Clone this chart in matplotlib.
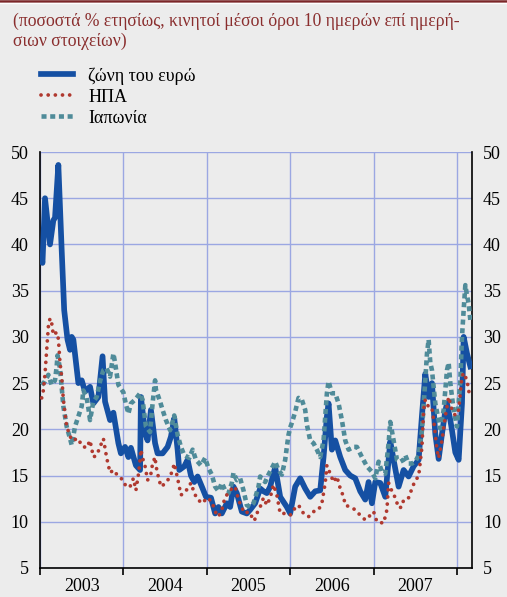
import matplotlib
matplotlib.use("Agg")
import matplotlib.pyplot as plt
from matplotlib.lines import Line2D

# euro area (blue, solid)
ea_t = [2003.01, 2003.03, 2003.06, 2003.12, 2003.16, 2003.18, 2003.22, 2003.26, 2003.29, 2003.33,
        2003.36, 2003.38, 2003.40, 2003.46, 2003.50, 2003.54, 2003.60, 2003.64, 2003.70, 2003.75,
        2003.78, 2003.84, 2003.88, 2003.94, 2003.97, 2004.02, 2004.06, 2004.09, 2004.15, 2004.20,
        2004.21, 2004.26, 2004.29, 2004.33, 2004.38, 2004.41, 2004.47, 2004.53, 2004.57, 2004.61,
        2004.65, 2004.67, 2004.73, 2004.77, 2004.81, 2004.85, 2004.89, 2004.95, 2004.99, 2005.05,
        2005.10, 2005.14, 2005.18, 2005.24, 2005.28, 2005.32, 2005.36, 2005.42, 2005.48, 2005.52,
        2005.58, 2005.64, 2005.68, 2005.72, 2005.76, 2005.82, 2005.88, 2005.96, 2006.00, 2006.06,
        2006.12, 2006.18, 2006.24, 2006.30, 2006.36, 2006.40, 2006.44, 2006.46, 2006.50, 2006.54,
        2006.60, 2006.66, 2006.72, 2006.78, 2006.84, 2006.90, 2006.94, 2006.98, 2007.02, 2007.08,
        2007.14, 2007.20, 2007.24, 2007.30, 2007.36, 2007.42, 2007.48, 2007.54, 2007.58, 2007.62,
        2007.66, 2007.70, 2007.74, 2007.78, 2007.82, 2007.86, 2007.88, 2007.92, 2007.94, 2007.98,
        2008.02, 2008.06, 2008.08, 2008.12, 2008.16]
ea_v = [38.7, 38.0, 45.0, 40.0, 42.6, 42.9, 48.6, 39.4, 32.9, 29.7,
        28.6, 30.0, 29.7, 25.0, 25.3, 24.1, 24.6, 22.8, 23.5, 27.9,
        23.0, 21.0, 21.8, 18.5, 17.4, 18.1, 17.0, 18.0, 16.1, 15.6,
        23.5, 19.6, 18.8, 22.1, 18.5, 17.4, 17.4, 18.1, 19.2, 21.2,
        17.8, 15.6, 16.0, 16.7, 15.0, 14.3, 14.9, 13.6, 12.7, 12.6,
        10.9, 11.6, 10.9, 12.0, 11.6, 13.8, 13.1, 11.1, 10.9, 11.3,
        12.0, 13.6, 13.3, 13.1, 13.8, 15.9, 12.7, 11.6, 10.9, 13.8,
        14.7, 13.6, 12.7, 13.3, 13.4, 17.0, 21.4, 22.8, 17.8, 18.8,
        17.0, 15.6, 15.0, 14.7, 13.3, 12.4, 14.3, 12.0, 14.3, 14.2,
        12.7, 18.7, 16.7, 13.8, 15.6, 14.9, 16.0, 16.7, 21.5, 26.0,
        23.5, 25.0, 19.5, 16.8, 19.5, 22.0, 22.8, 21.0, 19.9, 17.5,
        16.7, 22.8, 30.0, 28.2, 26.8]

# USA (red, dotted)
us_t = [2003.02, 2003.04, 2003.06, 2003.08, 2003.10, 2003.12, 2003.14, 2003.16, 2003.20, 2003.22,
        2003.24, 2003.26, 2003.28, 2003.32, 2003.38, 2003.46, 2003.50, 2003.56, 2003.60, 2003.64,
        2003.68, 2003.72, 2003.76, 2003.80, 2003.84, 2003.88, 2003.94, 2004.00, 2004.03, 2004.08,
        2004.12, 2004.15, 2004.18, 2004.20, 2004.21, 2004.23, 2004.26, 2004.29, 2004.33, 2004.35,
        2004.38, 2004.39, 2004.41, 2004.45, 2004.51, 2004.56, 2004.59, 2004.61, 2004.65, 2004.67,
        2004.69, 2004.73, 2004.77, 2004.81, 2004.85, 2004.89, 2004.95, 2005.00, 2005.06, 2005.10,
        2005.14, 2005.18, 2005.22, 2005.26, 2005.30, 2005.34, 2005.38, 2005.42, 2005.46, 2005.50,
        2005.54, 2005.57, 2005.60, 2005.64, 2005.68, 2005.72, 2005.76, 2005.80, 2005.84, 2005.88,
        2005.94, 2006.00, 2006.04, 2006.10, 2006.16, 2006.22, 2006.28, 2006.34, 2006.38, 2006.42,
        2006.44, 2006.48, 2006.52, 2006.56, 2006.60, 2006.64, 2006.66, 2006.72, 2006.78, 2006.84,
        2006.90, 2006.96, 2007.00, 2007.04, 2007.12, 2007.16, 2007.18, 2007.22, 2007.26, 2007.30,
        2007.34, 2007.36, 2007.42, 2007.46, 2007.50, 2007.54, 2007.58, 2007.60, 2007.62, 2007.66,
        2007.70, 2007.72, 2007.76, 2007.78, 2007.82, 2007.86, 2007.90, 2007.94, 2007.98, 2008.02,
        2008.06, 2008.08, 2008.12, 2008.14, 2008.16]
us_v = [23.4, 24.2, 26.0, 28.5, 31.1, 32.0, 31.5, 30.2, 30.5, 29.8,
        27.2, 25.7, 23.2, 20.3, 18.8, 19.0, 18.2, 18.0, 18.8, 17.0,
        17.2, 18.1, 19.0, 16.9, 15.3, 15.6, 14.9, 14.5, 13.8, 13.8,
        14.7, 13.4, 15.1, 16.7, 17.8, 16.9, 16.0, 14.5, 15.2, 16.3,
        17.0, 16.1, 15.2, 13.8, 14.2, 14.9, 15.6, 16.3, 14.7, 13.8,
        12.9, 13.1, 13.6, 14.2, 13.1, 12.4, 12.0, 12.6, 12.2, 11.1,
        10.55, 11.3, 12.7, 13.1, 13.6, 13.8, 12.4, 11.5, 10.9, 11.1,
        10.55, 10.1, 10.9, 11.6, 12.6, 11.8, 12.6, 14.0, 12.9, 10.9,
        10.9, 10.7, 11.3, 11.8, 10.9, 10.55, 11.1, 11.3, 12.0, 14.2,
        16.1, 15.2, 14.3, 14.9, 13.6, 12.7, 11.8, 11.6, 11.3, 10.7,
        10.2, 10.7, 11.1, 10.0, 9.85, 11.3, 14.2, 13.3, 12.6, 11.5,
        11.6, 12.4, 12.6, 13.6, 14.5, 14.9, 18.1, 22.1, 23.2, 22.4,
        22.3, 21.0, 17.8, 16.9, 18.8, 21.4, 23.5, 22.1, 21.5, 22.1,
        25.7, 26.1, 25.3, 24.2, 23.4]

# Japan (teal, dashed)
jp_t = [2003.02, 2003.06, 2003.10, 2003.14, 2003.18, 2003.20, 2003.21, 2003.24, 2003.26, 2003.28,
        2003.32, 2003.36, 2003.38, 2003.42, 2003.46, 2003.50, 2003.52, 2003.56, 2003.58, 2003.60,
        2003.64, 2003.68, 2003.72, 2003.76, 2003.80, 2003.84, 2003.88, 2003.90, 2003.94, 2004.00,
        2004.03, 2004.06, 2004.09, 2004.14, 2004.20, 2004.23, 2004.27, 2004.32, 2004.35, 2004.38,
        2004.39, 2004.44, 2004.47, 2004.51, 2004.56, 2004.59, 2004.61, 2004.65, 2004.69, 2004.73,
        2004.79, 2004.83, 2004.87, 2004.93, 2004.98, 2005.02, 2005.06, 2005.10, 2005.14, 2005.18,
        2005.22, 2005.26, 2005.30, 2005.32, 2005.36, 2005.40, 2005.44, 2005.48, 2005.52, 2005.56,
        2005.62, 2005.64, 2005.70, 2005.74, 2005.78, 2005.82, 2005.86, 2005.90, 2005.94, 2005.96,
        2005.98, 2006.00, 2006.02, 2006.06, 2006.10, 2006.14, 2006.18, 2006.20, 2006.24, 2006.28,
        2006.32, 2006.36, 2006.40, 2006.44, 2006.46, 2006.50, 2006.54, 2006.58, 2006.62, 2006.66,
        2006.70, 2006.76, 2006.80, 2006.86, 2006.92, 2006.98, 2007.02, 2007.06, 2007.10, 2007.14,
        2007.18, 2007.20, 2007.24, 2007.28, 2007.32, 2007.36, 2007.38, 2007.42, 2007.46, 2007.50,
        2007.54, 2007.58, 2007.62, 2007.64, 2007.66, 2007.68, 2007.70, 2007.74, 2007.78, 2007.80,
        2007.84, 2007.88, 2007.90, 2007.92, 2007.96, 2008.00, 2008.02, 2008.04, 2008.06, 2008.08,
        2008.10, 2008.12, 2008.14, 2008.16]
jp_v = [24.8, 25.2, 25.9, 24.8, 25.3, 26.8, 28.0, 26.6, 24.6, 22.5,
        20.3, 19.0, 18.3, 20.3, 21.4, 22.5, 24.2, 23.4, 22.3, 21.0,
        23.0, 23.5, 25.2, 26.4, 26.6, 25.7, 28.2, 27.2, 24.8, 24.0,
        22.7, 21.7, 22.8, 23.2, 23.9, 23.2, 20.3, 19.7, 22.8, 25.3,
        24.3, 23.0, 22.1, 21.0, 19.9, 20.8, 21.5, 19.4, 18.1, 17.2,
        16.9, 17.8, 16.7, 16.1, 16.9, 15.8, 15.1, 13.8, 13.3, 14.2,
        13.4, 13.1, 14.2, 15.3, 14.5, 14.7, 13.4, 11.8, 11.6, 12.0,
        13.8, 14.9, 14.3, 15.1, 15.8, 16.5, 15.6, 15.1, 16.7, 18.1,
        19.4, 20.2, 20.7, 21.9, 23.4, 23.2, 22.1, 20.5, 18.8, 18.5,
        17.8, 17.0, 18.8, 23.9, 25.2, 23.9, 23.9, 22.8, 21.0, 18.8,
        17.8, 18.1, 18.1, 17.0, 16.0, 15.4, 14.7, 16.5, 15.4, 15.2,
        18.5, 20.8, 18.8, 16.7, 16.5, 16.7, 17.2, 16.3, 16.3, 16.5,
        17.2, 19.9, 25.3, 28.2, 29.7, 27.2, 26.4, 22.8, 21.0, 20.1,
        22.1, 26.4, 27.2, 25.0, 22.1, 20.3, 22.8, 25.3, 30.0, 32.9,
        35.6, 34.5, 33.6, 31.8]

years = [2003, 2004, 2005, 2006, 2007]
labels = ["ζώνη του ευρώ", "ΗΠΑ", "Ιαπωνία"]
title = "(ποσοστά % ετησίως, κινητοί μέσοι όροι 10 ημερών επί ημερή-\nσιων στοιχείων)"

BG = "#ececec"
BLUE = "#1550a3"
RED = "#b0392f"
TEAL = "#4f8b99"
GRID = "#9ba7e2"
TITLE_C = "#8a2e2e"

plt.rcParams["font.family"] = ["Liberation Serif", "DejaVu Serif"]

fig = plt.figure(figsize=(5.07, 5.97), dpi=100, facecolor=BG)
ax = fig.add_axes([40 / 507, 29 / 597, 432 / 507, 416 / 597])
ax.set_facecolor(BG)

l_ea, = ax.plot(ea_t, ea_v, color=BLUE, lw=4.1, solid_joinstyle="round", zorder=3)
l_jp, = ax.plot(jp_t, jp_v, color=TEAL, lw=3.3, dashes=(1.1, 0.8), dash_capstyle="butt", zorder=4)
l_us, = ax.plot(us_t, us_v, color=RED, lw=2.7, dashes=(0.01, 1.9), dash_capstyle="round", zorder=5)

ax.set_xlim(2003.0, 2008.18)
ax.set_ylim(5, 50)
ax.set_yticks(range(5, 51, 5))
ax.set_xticks([y for y in years] + [2008])
ax.set_xticklabels([])
ax.set_xticks([y + 0.5 for y in years], minor=True)
ax.set_xticklabels([str(y) for y in years], minor=True)

ax.grid(True, which="major", color=GRID, lw=1.0, zorder=1)
ax.set_axisbelow(True)
ax.tick_params(axis="x", which="major", direction="out", length=5, width=1.2, color="black")
ax.tick_params(axis="x", which="minor", length=0, labelsize=13, pad=7)
ax.tick_params(axis="y", length=0, labelsize=13, pad=8, labelright=True, right=False)
for s in ["left", "right", "bottom"]:
    ax.spines[s].set_color("black")
    ax.spines[s].set_linewidth(1.2)
ax.spines["top"].set_visible(False)

fig.text(13 / 507, 1 - 13 / 597, title, color=TITLE_C, fontsize=12.7, va="top", ha="left",
         linespacing=1.2)

# legend
fig.legend([l_ea, l_us, l_jp], labels, loc="upper left", bbox_to_anchor=(34 / 507, 1 - 60 / 597),
           frameon=False, fontsize=13, handlelength=1.75, handletextpad=0.85, labelspacing=0.22,
           borderaxespad=0)

# decorative top bar
fig.add_artist(Line2D([0, 1], [1 - 1 / 597, 1 - 1 / 597], transform=fig.transFigure, color="#7b2628", lw=1.8))
fig.add_artist(Line2D([0, 1], [1 - 3.2 / 597, 1 - 3.2 / 597], transform=fig.transFigure, color="white", lw=1.0))

fig.savefig("out.png", dpi=100, facecolor=BG)
